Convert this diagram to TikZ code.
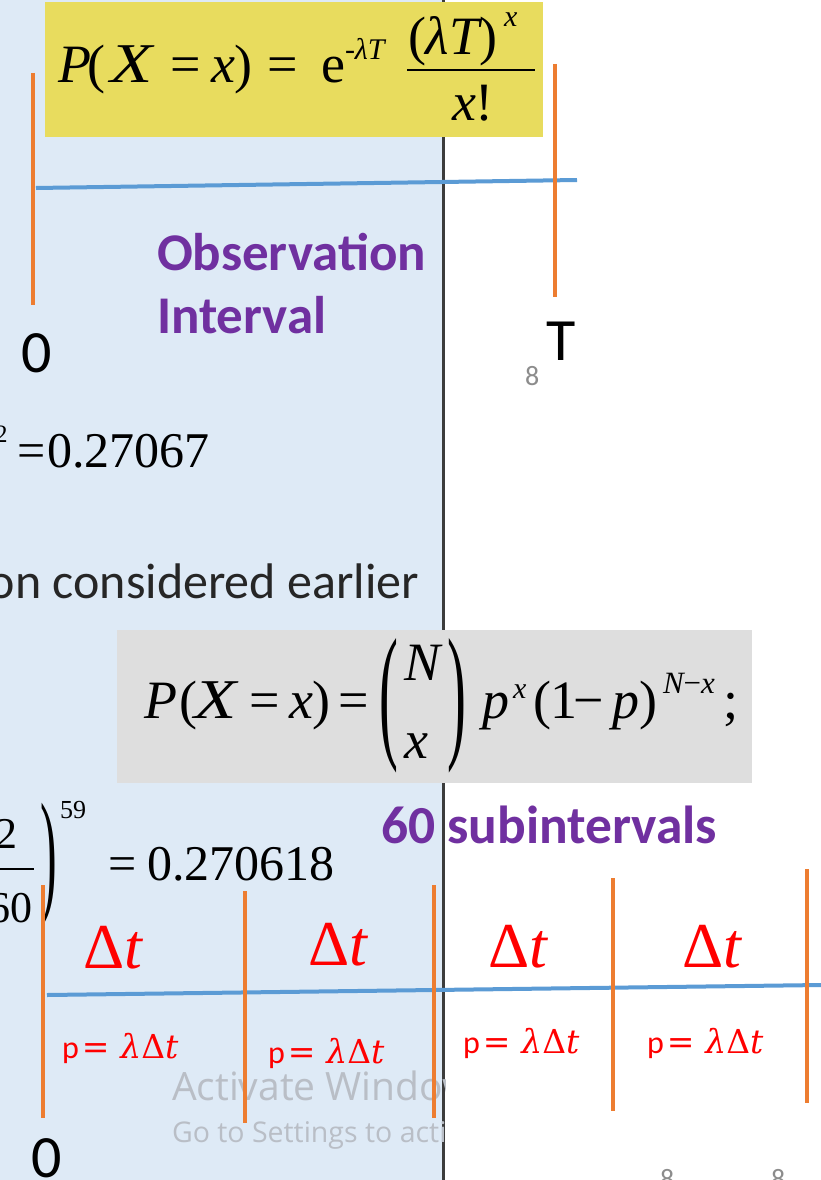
\documentclass[tikz,border=0pt]{standalone}
\usepackage{fontspec}
\usepackage{graphicx}
\setmainfont{Carlito}
\newfontfamily\tnr{Liberation Serif}
\newfontfamily\dvs{DejaVu Serif}
\newfontfamily\wmf{Open Sans}
\definecolor{bgblue}{RGB}{222,234,246}
\definecolor{yel}{RGB}{232,220,94}
\definecolor{gbox}{RGB}{222,222,222}
\definecolor{org}{RGB}{237,125,49}
\definecolor{axb}{RGB}{91,155,213}
\definecolor{purp}{RGB}{112,48,160}
\definecolor{divc}{RGB}{60,60,60}
\definecolor{txt}{RGB}{38,38,38}
\definecolor{wm}{RGB}{185,190,198}
\definecolor{pgnum}{RGB}{140,140,140}
\newcommand\fsz[1]{\fontsize{#1}{#1}\selectfont}
\newcommand\plab{p\kern3pt{\dvs\fsz{33}=\kern11pt\itshape λ\upshape Δ\itshape t}}
\newcommand\wideX{\scalebox{1.28}[1.04]{\itshape X}}
\tikzset{
  every node/.style={inner sep=0pt, outer sep=0pt},
  bl/.style={anchor=base west},
  fml/.style={bl, text=black, font=\tnr\fsz{54}},
  tickline/.style={draw=org, line width=4.5pt},
  axisline/.style={draw=axb, line width=4pt},
  purptxt/.style={bl, text=purp, font=\bfseries\fsz{53}},
  bigtxt/.style={bl, text=black, font=\fsz{60}},
  dtlabel/.style={bl, text=red, font=\tnr\fsz{64}},
  plabel/.style={bl, text=red, font=\fsz{32}},
  wmtxt/.style={bl, text=wm},
}
\begin{document}
\begin{tikzpicture}[x=1pt,y=-1pt]
\useasboundingbox (0,0) rectangle (821,1180);
\clip (0,0) rectangle (821,1180);
% backgrounds
\fill[white] (0,0) rectangle (821,1180);
\fill[bgblue] (0,0) rectangle (443,1180);
\coordinate (divtop) at (443.5,0);
\coordinate (divbot) at (443.5,1180);
\draw[divc, line width=2.5pt] (divtop) -- (divbot);
% watermark
\begin{scope}
\clip (0,0) rectangle (445,1180);
\node[wmtxt, font=\wmf\fsz{39}] (wm1) at (172,1100) {Activate Windows};
\node[wmtxt, font=\wmf\fsz{28.5}] (wm2) at (172,1142) {Go to Settings to activate Windows.};
\end{scope}
% boxes
\fill[yel] (45,2) rectangle (543,137);
\fill[gbox] (117,630) rectangle (752,783);
% Poisson formula
\node[fml] (poisson) at (58,83) {%
\makebox[29pt][l]{\itshape P}%
\makebox[23pt][l]{(}%
\makebox[60pt][l]{\wideX}%
\makebox[41pt][l]{=}%
\makebox[57pt][l]{\itshape x\upshape)}%
\makebox[54pt][l]{=}%
\makebox[23pt][l]{e}%
\makebox[62pt][l]{\raisebox{23pt}{\fsz{30}-\itshape λT}}%
\rlap{\rule[11.5pt]{128pt}{2.5pt}}%
\rlap{\kern1pt\raisebox{28pt}{(\itshape λT\upshape)}}%
\rlap{\kern97pt\raisebox{56pt}{\fsz{30}\itshape x}}%
\kern45pt\raisebox{-38pt}{\itshape x\upshape!}};
% Binomial formula
\node[fml] (binom) at (144,718) {%
\makebox[35pt][l]{\itshape P}%
\makebox[15pt][l]{(}%
\makebox[55pt][l]{\wideX}%
\makebox[40pt][l]{=}%
\makebox[50pt][l]{\itshape x\upshape)}%
\makebox[40pt][l]{=}%
\makebox[25pt][l]{\raisebox{-23pt}{\scalebox{1.05}[2.75]{(}}}%
\makebox[43pt][l]{\rlap{\raisebox{38pt}{\itshape N}}\raisebox{-40pt}{\itshape x}}%
\makebox[35pt][l]{\raisebox{-23pt}{\scalebox{1.05}[2.75]{)}}}%
\makebox[31pt][l]{\itshape p}%
\makebox[20pt][l]{\raisebox{20pt}{\fsz{30}\itshape x}}%
\makebox[40pt][l]{(1}%
\makebox[39pt][l]{−}%
\makebox[51pt][l]{\itshape p\upshape)}%
\makebox[60pt][l]{\raisebox{25pt}{\fsz{31}\itshape N\upshape−\itshape x}}%
;};
% partial results
\node[fml, font=\tnr\fsz{50}] (res1) at (-5,467) {%
\makebox[22pt][l]{\raisebox{25pt}{\fsz{25}2}}%
\makebox[30pt][l]{=}%
0.27067};
\node[fml, font=\tnr\fsz{50}] (res2) at (-12,880) {%
\rlap{\kern7pt\raisebox{32pt}{\fsz{44}2}}%
\rlap{\raisebox{-42pt}{\fsz{44}60}}%
\rlap{\kern7pt\rule[10pt]{39pt}{2pt}}%
\makebox[52pt][l]{}%
\makebox[20pt][l]{\raisebox{-18.4pt}{\scalebox{1.0}[2.75]{)}}}%
\makebox[48pt][l]{\raisebox{62pt}{\fsz{26}59}}%
\makebox[39pt][l]{=}%
0.270618};
\node[anchor=base east, text=txt, font=\fsz{50}] (earlier) at (419,598) {on considered earlier};
% top timeline
\coordinate (a0) at (36,188);
\coordinate (aT) at (577,180);
\draw[axisline] (a0) -- (aT);
\coordinate (t0a) at (33,73);
\coordinate (t0b) at (33,305);
\coordinate (tTa) at (555,64);
\coordinate (tTb) at (555,297);
\draw[tickline] (t0a) -- (t0b);
\draw[tickline] (tTa) -- (tTb);
\node[purptxt] (obs1) at (157,270) {Observation};
\node[purptxt] (obs2) at (157,333) {Interval};
\node[bigtxt] (zero1) at (21,372) {0};
\node[bigtxt] (T) at (546,360) {T};
\node[bl, text=pgnum, font=\fsz{28}] (pg1) at (525,385) {8};
% bottom timeline
\node[purptxt, font=\bfseries\fsz{53.5}] (sub) at (381,843) {60 subintervals};
\coordinate (b0) at (47,995);
\coordinate (b1) at (821,985);
\draw[axisline] (b0) -- (b1);
\coordinate (s1a) at (43,885);  \coordinate (s1b) at (43,1118);
\coordinate (s2a) at (245,891); \coordinate (s2b) at (245,1123);
\coordinate (s3a) at (434,885); \coordinate (s3b) at (434,1118);
\coordinate (s4a) at (613,878); \coordinate (s4b) at (613,1111);
\coordinate (s5a) at (807,869); \coordinate (s5b) at (807,1103);
\draw[tickline] (s1a) -- (s1b);
\draw[tickline] (s2a) -- (s2b);
\draw[tickline] (s3a) -- (s3b);
\draw[tickline] (s4a) -- (s4b);
\draw[tickline] (s5a) -- (s5b);
\node[dtlabel] (dt1) at (83,968) {Δ\textit{t}};
\node[dtlabel] (dt2) at (308,965) {Δ\textit{t}};
\node[dtlabel] (dt3) at (488,967) {Δ\textit{t}};
\node[dtlabel] (dt4) at (682,967) {Δ\textit{t}};
\node[plabel] (p1) at (62,1058) {\plab};
\node[plabel] (p2) at (268,1063) {\plab};
\node[plabel] (p3) at (463,1053) {\plab};
\node[plabel] (p4) at (647,1053) {\plab};
\node[bigtxt] (zero2) at (31,1177) {0};
\node[bl, text=pgnum, font=\fsz{28}] (pg2) at (660,1188) {8};
\node[bl, text=pgnum, font=\fsz{28}] (pg3) at (771,1188) {8};
\end{tikzpicture}
\end{document}
